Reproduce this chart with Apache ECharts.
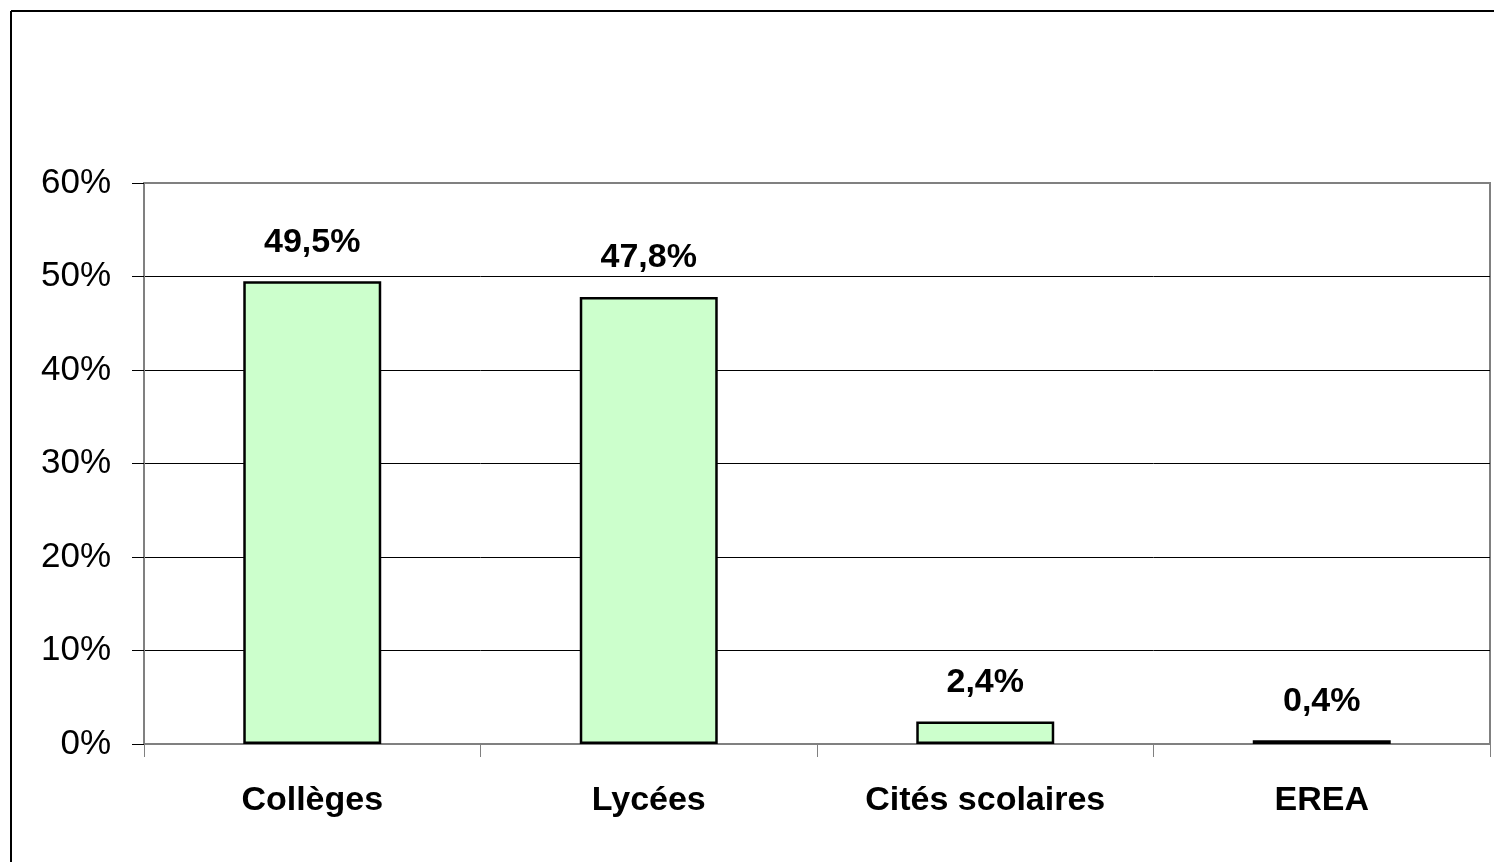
<!DOCTYPE html>
<html>
<head>
<meta charset="utf-8">
<script src="https://cdn.jsdelivr.net/npm/echarts@6/dist/echarts.min.js"></script>
<style>
  html, body { margin: 0; padding: 0; background: #fff; }
  #main { width: 1494px; height: 862px; }
</style>
</head>
<body>
<div id="main"></div>
<script>
// categories and values (percent)
const categories = ['Collèges', 'Lycées', 'Cités scolaires', 'EREA'];
const values = [49.5, 47.8, 2.4, 0.4];
const yTicks = [0, 10, 20, 30, 40, 50, 60];

const chart = echarts.init(document.getElementById('main'), null, { renderer: 'canvas' });
const FONT = '"Liberation Sans", Arial, sans-serif';

const option = {
  backgroundColor: '#fff',
  animation: false,
  textStyle: { fontFamily: FONT },
  grid: {
    left: 144, right: 4, top: 183, bottom: 118,
    show: true, borderColor: '#808080', borderWidth: 2
  },
  graphic: [
    // outer chart frame (top + left edges visible)
    { type: 'line', shape: { x1: 11, y1: 11, x2: 1494, y2: 11 }, style: { stroke: '#000', lineWidth: 2 } },
    { type: 'line', shape: { x1: 11, y1: 11, x2: 11, y2: 862 }, style: { stroke: '#000', lineWidth: 2 } }
  ],
  xAxis: {
    type: 'category',
    data: categories,
    axisLine: { show: true, lineStyle: { color: '#808080', width: 2 } },
    axisTick: { show: true, length: 13, lineStyle: { color: '#808080', width: 1 } },
    axisLabel: {
      fontFamily: FONT, fontSize: 34, fontWeight: 'bold', color: '#000', margin: 40
    }
  },
  yAxis: {
    type: 'value',
    min: yTicks[0],
    max: yTicks[yTicks.length - 1],
    interval: 10,
    axisLine: { show: true, lineStyle: { color: '#808080', width: 2 } },
    axisTick: { show: true, length: 12, lineStyle: { color: '#000', width: 1 } },
    splitLine: { show: true, showMaxLine: false, lineStyle: { color: '#000', width: 1 } },
    axisLabel: {
      fontFamily: FONT, fontSize: 35, color: '#000', margin: 33,
      formatter: v => v + '%'
    }
  },
  series: [{
    type: 'bar',
    data: values,
    barWidth: '41%',
    itemStyle: { color: '#CCFFCC', borderColor: '#000', borderWidth: 2.5 },
    label: {
      show: true,
      position: 'top',
      distance: 22,
      fontFamily: FONT, fontSize: 34, fontWeight: 'bold', color: '#000',
      formatter: p => String(p.value).replace('.', ',') + '%'
    }
  }]
};

chart.setOption(option);
</script>
</body>
</html>
